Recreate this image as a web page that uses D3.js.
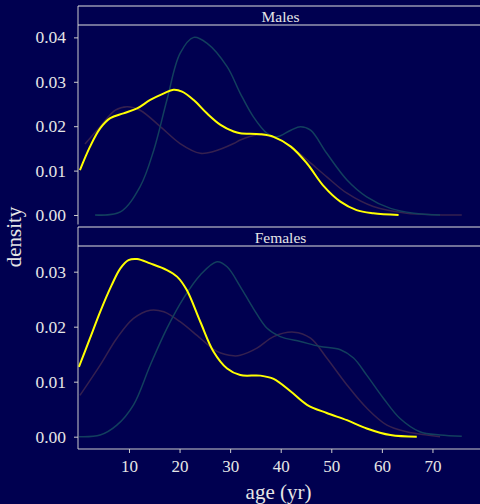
<!DOCTYPE html>
<html><head><meta charset="utf-8">
<script src="https://cdn.jsdelivr.net/npm/d3@7"></script>
<style>html,body{margin:0;padding:0;background:#000050;}svg{display:block;}</style>
</head><body><svg id="chart" width="480" height="504"></svg>
<script>
// ---- data ----
const panels = ["Males", "Females"];
const xTicks = [10, 20, 30, 40, 50, 60, 70];
const yTicksMales = [0.00, 0.01, 0.02, 0.03, 0.04];
const yTicksFemales = [0.00, 0.01, 0.02, 0.03];

const malesYellowAge = [0.3,2.3,4.3,6.3,8.9,11.6,14.2,16.9,18.8,20.5,22.8,25.4,28.1,30.7,32,36,38.6,42,45.2,48.5,51.8,55,58.3,63.3];
const malesYellowDen = [0.0101,0.0154,0.0195,0.0218,0.0229,0.0240,0.0259,0.0274,0.0282,0.0278,0.0259,0.0229,0.0203,0.0188,0.0184,0.0182,0.0176,0.0154,0.0116,0.0065,0.0030,0.0011,0.0004,0.0];
const malesTealAge = [3.3,8.3,12.2,14.9,17.5,20.1,22.8,25.4,29.4,32,34.6,37.3,39.2,42,43.9,45.9,49.1,53.1,57,61.7,66.3,71.5];
const malesTealDen = [0.0,0.0007,0.0064,0.0146,0.0259,0.0364,0.0400,0.0387,0.0334,0.0274,0.0221,0.0184,0.0176,0.0191,0.0199,0.0191,0.0139,0.0079,0.0041,0.0015,0.0004,0.0];
const malesPurpleAge = [1.3,4.3,7.3,9.6,12.2,16.2,20.1,24.1,26.7,30.7,32,35.3,38.6,42,45.2,49.1,53.1,58.3,64.9,75.8];
const malesPurpleDen = [0.0160,0.0199,0.0236,0.0244,0.0236,0.0199,0.0161,0.0139,0.0143,0.0161,0.0169,0.0180,0.0175,0.0154,0.0124,0.0086,0.0049,0.0019,0.0004,0.0];

const femalesYellowAge = [0.1,2.3,4.3,6.6,8.3,9.9,11.6,14.2,17.5,19.5,21.4,24.1,26.7,29.4,32,36,38.6,42,45.2,49.1,53.1,57,61.7,66.9];
const femalesYellowDen = [0.0127,0.0179,0.0227,0.0276,0.0306,0.0321,0.0323,0.0315,0.0303,0.0291,0.0267,0.0209,0.0155,0.0124,0.0112,0.0111,0.0105,0.0082,0.0058,0.0043,0.0030,0.0015,0.0003,0.0];
const femalesTealAge = [0.1,4.3,7.6,10.9,14.2,17.5,20.8,24.1,27.4,29.4,32,34.6,37.3,39.9,43.9,47.8,51.8,54.4,57,60.3,63.6,67.5,71.5,75.8];
const femalesTealDen = [0.0,0.0003,0.0021,0.0058,0.0130,0.0197,0.0252,0.0294,0.0318,0.0309,0.0273,0.0233,0.0197,0.0182,0.0173,0.0164,0.0158,0.0143,0.0112,0.0070,0.0033,0.0009,0.0003,0.0001];
const femalesPurpleAge = [0.3,4.3,7.6,10.9,14.2,16.9,20.1,24.1,27.4,30.7,32,35.3,38.6,42.6,45.9,49.1,53.1,57,61,64.9,68.9,71.5];
const femalesPurpleDen = [0.0075,0.0130,0.0179,0.0215,0.0230,0.0227,0.0209,0.0179,0.0155,0.0147,0.0148,0.0161,0.0182,0.0190,0.0179,0.0143,0.0094,0.0052,0.0021,0.0009,0.0003,0.0];

// ---- build ----
const colors = {purple: "#35204f", teal: "#123f5e", yellow: "#ffff00"};
const textCol = "#e6e6e6";
const font = "'Liberation Serif', 'DejaVu Serif', serif";

const svg = d3.select("#chart");
svg.append("rect").attr("width", 480).attr("height", 504).attr("fill", "#000050");

const x = d3.scaleLinear().domain([0, 79.4]).range([78.4, 480]);

const panelDefs = [
  {name: panels[0], stripTop: 6, stripBot: 25, top: 25, bottom: 224.5, domain: [-0.00214, 0.04279], ticks: yTicksMales,
   series: [
     {c: colors.purple, w: 1.5, a: malesPurpleAge, d: malesPurpleDen},
     {c: colors.teal, w: 1.5, a: malesTealAge, d: malesTealDen},
     {c: colors.yellow, w: 2, a: malesYellowAge, d: malesYellowDen}]},
  {name: panels[1], stripTop: 227, stripBot: 246, top: 246, bottom: 449, domain: [-0.00224, 0.03467], ticks: yTicksFemales,
   series: [
     {c: colors.purple, w: 1.5, a: femalesPurpleAge, d: femalesPurpleDen},
     {c: colors.teal, w: 1.5, a: femalesTealAge, d: femalesTealDen},
     {c: colors.yellow, w: 2, a: femalesYellowAge, d: femalesYellowDen}]}
];

panelDefs.forEach((p, i) => {
  const y = d3.scaleLinear().domain(p.domain).range([p.bottom, p.top]);
  const g = svg.append("g");
  const clipId = "clip" + i;
  svg.append("clipPath").attr("id", clipId).append("rect")
    .attr("x", 78).attr("y", p.top).attr("width", 402).attr("height", p.bottom - p.top);
  const line = d3.line().x(d => x(d[0])).y(d => y(d[1])).curve(d3.curveCatmullRom.alpha(0.5));
  p.series.forEach(s => {
    g.append("path").attr("clip-path", `url(#${clipId})`)
      .datum(s.a.map((v, k) => [v, s.d[k]]))
      .attr("d", line).attr("fill", "none").attr("stroke", s.c)
      .attr("stroke-width", s.w).attr("stroke-linejoin", "round");
  });
  // y axis
  const ya = svg.append("g").attr("transform", "translate(78,0)")
    .call(d3.axisLeft(y).tickValues(p.ticks).tickFormat(d3.format(".2f")).tickSize(4).tickPadding(8));
  ya.select(".domain").remove();
  ya.selectAll("line").attr("stroke", "#cccccc");
  ya.selectAll("text").attr("fill", textCol).style("font-family", font).style("font-size", "17.5px");
  svg.append("line").attr("x1", 78).attr("x2", 78).attr("y1", p.stripTop).attr("y2", p.bottom)
    .attr("stroke", "#cccccc").attr("stroke-width", 1);
  // strip
  svg.append("line").attr("x1", 78).attr("x2", 480).attr("y1", p.stripTop).attr("y2", p.stripTop).attr("stroke", "#e0e0e0").attr("stroke-width", 1);
  svg.append("line").attr("x1", 78).attr("x2", 480).attr("y1", p.stripBot).attr("y2", p.stripBot).attr("stroke", "#e0e0e0").attr("stroke-width", 1);
  svg.append("text").attr("x", 280.5).attr("y", (p.stripTop + p.stripBot) / 2 + 6)
    .attr("text-anchor", "middle").attr("fill", textCol)
    .style("font-family", font).style("font-size", "15.5px").text(p.name);
  if (i === 1) {
    const xa = svg.append("g").attr("transform", `translate(0,${p.bottom})`)
      .call(d3.axisBottom(x).tickValues(xTicks).tickSize(4).tickPadding(7));
    xa.select(".domain").remove();
    xa.selectAll("line").attr("stroke", "#cccccc");
    xa.selectAll("text").attr("fill", textCol).style("font-family", font).style("font-size", "17px");
    svg.append("line").attr("x1", 78).attr("x2", 480).attr("y1", p.bottom).attr("y2", p.bottom)
      .attr("stroke", "#cccccc").attr("stroke-width", 1);
  }
});

svg.append("text").attr("x", 278.5).attr("y", 498.5).attr("text-anchor", "middle")
  .attr("fill", textCol).style("font-family", font).style("font-size", "21px").text("age (yr)");
svg.append("text").attr("transform", "translate(21,237) rotate(-90)").attr("text-anchor", "middle")
  .attr("fill", textCol).style("font-family", font).style("font-size", "21px").text("density");
</script></body></html>
